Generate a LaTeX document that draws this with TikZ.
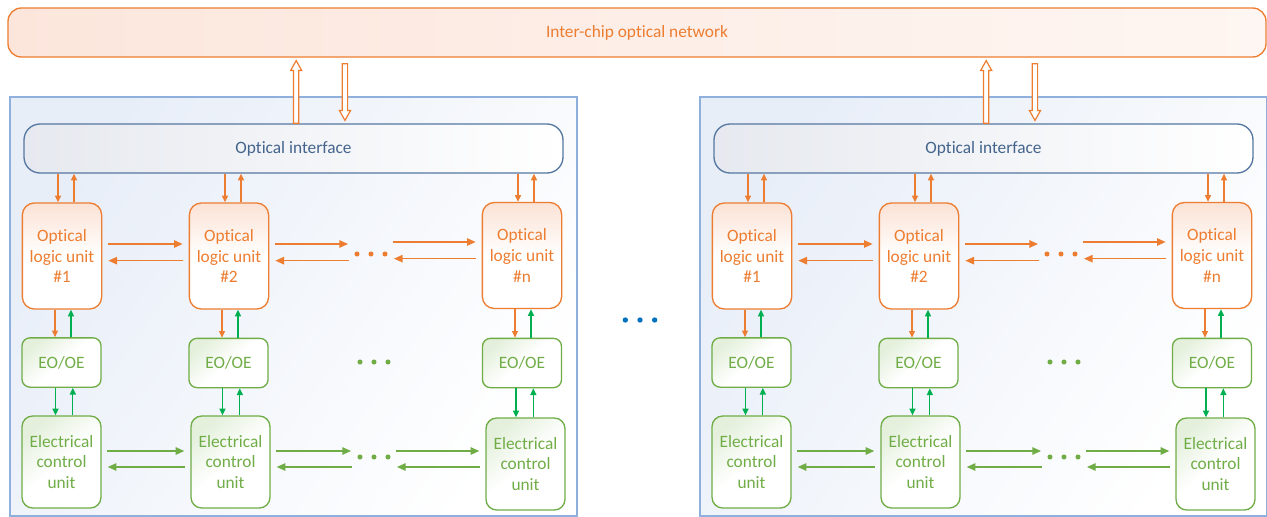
\documentclass[tikz,border=0pt]{standalone}
\usepackage{fontspec}
\setmainfont{Carlito}[Ligatures=NoCommon]
\usetikzlibrary{arrows.meta,calc}

\definecolor{optorange}{HTML}{ED7D31}
\definecolor{elgreen}{HTML}{70AD47}
\definecolor{brgreen}{HTML}{00B050}
\definecolor{chipline}{HTML}{8FB0DC}
\definecolor{chipfill}{HTML}{E8EEF8}
\definecolor{oiline}{HTML}{5577A0}
\definecolor{oitext}{HTML}{44648C}
\definecolor{oifill}{HTML}{E6E9EF}
\definecolor{netfill}{HTML}{FCE6DC}
\definecolor{netfillb}{HTML}{FEF6F2}
\definecolor{olufill}{HTML}{FBE2D5}
\definecolor{eofill}{HTML}{E4F0DC}
\definecolor{dotblue}{HTML}{0070C0}

% Hollow block arrow from #1 (tail) to #2 (tip), vertical
\newcommand\hollowarrow[2]{%
  \draw[optorange, line width=0.9pt, fill=white]
    let \p1=#1, \p2=#2, \n1={ifthenelse(\y2>\y1,1,-1)} in
    ({\x1-2pt},{\y1}) -- ({\x1-2pt},{\y2-\n1*7.5pt}) -- ({\x1-4.2pt},{\y2-\n1*7.5pt})
    -- (\x2,\y2) -- ({\x1+4.2pt},{\y2-\n1*7.5pt}) -- ({\x1+2pt},{\y2-\n1*7.5pt})
    -- ({\x1+2pt},{\y1}) -- cycle;}

\begin{document}
\begin{tikzpicture}[x=0.75pt,y=-0.75pt,
  every node/.style={font=\fontsize{13}{15.5}\selectfont, align=center, inner sep=0pt},
  netbox/.style={draw=optorange, line width=1pt, rounded corners=10pt,
    left color=netfill, right color=netfillb, text=optorange},
  chipbox/.style={draw=chipline, line width=1pt, top color=chipfill, bottom color=white,
    shading angle=55},
  oibox/.style={draw=oiline, line width=1pt, rounded corners=12pt,
    left color=oifill, right color=white, text=oitext,
    minimum width=404.25pt, minimum height=36.75pt},
  olubox/.style={draw=optorange, line width=1pt, rounded corners=9pt,
    top color=olufill, bottom color=white, middle color=white, text=optorange,
    minimum width=59.5pt, minimum height=79.5pt},
  eobox/.style={draw=elgreen, line width=1pt, rounded corners=6pt,
    top color=eofill, bottom color=white, middle color=white, shading angle=40, text=elgreen,
    minimum width=59.25pt, minimum height=37pt},
  ecubox/.style={draw=elgreen, line width=1pt, rounded corners=8pt,
    top color=eofill, bottom color=white, middle color=white, shading angle=40, text=elgreen,
    minimum width=59.25pt, minimum height=69pt},
  dotrow/.style={minimum width=25pt, minimum height=6pt},
  varr/.style={line width=0.9pt, -{Triangle[length=5pt,width=4.5pt]}},
  harr/.style={line width=1.2pt, -{Triangle[length=6.5pt,width=5.5pt]},
    shorten <=4pt, shorten >=4.5pt},
]
\useasboundingbox (0,0) rectangle (1267,517);

% network spanning all chips
\node[netbox, minimum width=943.5pt, minimum height=36.75pt] (net) at (637,32.5)
  {Inter-chip optical network};

\foreach \s/\dx in {L/0,R/690}{
\begin{scope}[xshift=\dx*0.75pt]
  % chip outline
  \node[chipbox, minimum width=425.25pt, minimum height=314.25pt] (chip\s) at (293.5,306.5) {};
  % optical interface
  \node[oibox] (oi\s) at (293.5,148.5) {Optical interface};
  % optical logic units
  \node[olubox] (o1\s) at (62,256)    {Optical\\logic unit\\\#1};
  \node[olubox] (o2\s) at (229,256)   {Optical\\logic unit\\\#2};
  \node[olubox] (on\s) at (522,255.5) {Optical\\logic unit\\\#n};
  % converters
  \node[eobox] (e1\s) at (61.5,362.5) {EO/OE};
  \node[eobox] (e2\s) at (228.5,363)  {EO/OE};
  \node[eobox] (en\s) at (522,363)    {EO/OE};
  % electrical control units
  \node[ecubox] (c1\s) at (61.5,462)  {Electrical\\control\\unit};
  \node[ecubox] (c2\s) at (230.5,462) {Electrical\\control\\unit};
  \node[ecubox] (cn\s) at (525.5,464) {Electrical\\control\\unit};
  % ellipsis placeholders
  \node[dotrow] (od\s) at (371,254) {};
  \node[dotrow] (ed\s) at (374,362) {};
  \node[dotrow] (cd\s) at (374,457) {};
  \foreach \k in {-1,0,1}{
    \fill[optorange] ([xshift=\k*10.5pt]od\s.center) circle (1.9pt);
    \fill[elgreen] ([xshift=\k*10.5pt]ed\s.center) circle (1.9pt);
    \fill[elgreen] ([xshift=\k*10.5pt]cd\s.center) circle (1.9pt);
  }

  % links to the optical network
  \hollowarrow{([xshift=2pt]oi\s.north)}{([xshift=2pt,yshift=-2.2pt]oi\s.north |- net.south)}
  \hollowarrow{([xshift=38.6pt,yshift=-4.5pt]oi\s.north |- net.south)}{([xshift=38.6pt,yshift=2.2pt]oi\s.north)}

  % optical interface <-> logic units
  \foreach \uu in {o1,o2,on}{
    \draw[varr, optorange] ([xshift=-3pt]\uu\s.north |- oi\s.south) -- ([xshift=-3pt]\uu\s.north);
    \draw[varr, optorange] ([xshift=9pt]\uu\s.north) -- ([xshift=9pt]\uu\s.north |- oi\s.south);
  }
  % logic units <-> converters
  \foreach \uu/\vv in {o1/e1,o2/e2,on/en}{
    \draw[varr, optorange] ([xshift=-5.25pt]\uu\s.south) -- ([xshift=-5.25pt]\uu\s.south |- \vv\s.north);
    \draw[varr, brgreen] ([xshift=6.75pt]\uu\s.south |- \vv\s.north) -- ([xshift=6.75pt]\uu\s.south);
  }
  % converters <-> control units
  \foreach \vv/\ww in {e1/c1,e2/c2,en/cn}{
    \draw[varr, brgreen] ([xshift=-4.5pt]\vv\s.south) -- ([xshift=-4.5pt]\vv\s.south |- \ww\s.north);
    \draw[varr, brgreen] ([xshift=8.5pt]\vv\s.south |- \ww\s.north) -- ([xshift=8.5pt]\vv\s.south);
  }

  % chains of logic units
  \foreach \aa/\bb in {o1/o2,o2/od,od/on}{
    \draw[harr, optorange] ([yshift=9pt]\aa\s.east) -- ([yshift=9pt]\aa\s.east -| \bb\s.west);
    \draw[harr, optorange] ([yshift=-3.5pt]\aa\s.east -| \bb\s.west) -- ([yshift=-3.5pt]\aa\s.east);
  }
  % chains of control units
  \foreach \aa/\bb in {c1/c2,c2/cd,cd/cn}{
    \draw[harr, elgreen] ([yshift=8.25pt]c1\s.east -| \aa\s.east) -- ([yshift=8.25pt]c1\s.east -| \bb\s.west);
    \draw[harr, elgreen] ([yshift=-3.75pt]c1\s.east -| \bb\s.west) -- ([yshift=-3.75pt]c1\s.east -| \aa\s.east);
  }
\end{scope}
}

% further chips
\node[dotrow] (mid) at (640,320) {};
\foreach \k in {-1,0,1}
  \fill[dotblue] ([xshift=\k*11pt]mid.center) circle (2pt);
\end{tikzpicture}
\end{document}
